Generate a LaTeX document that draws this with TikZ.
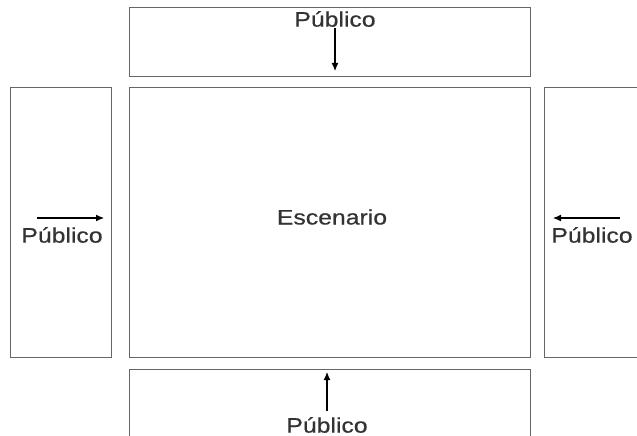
\documentclass[tikz,border=0pt]{standalone}
\usepackage{fontspec}
\setmainfont[FakeStretch=1.18,FakeBold=0.5]{Liberation Sans}
\usetikzlibrary{arrows.meta}
\begin{document}
\begin{tikzpicture}[x=1pt,y=-1pt,
  area/.style={draw=black!60,line width=1.3pt,inner sep=0pt,anchor=north west},
  lbl/.style={font=\fontsize{21}{23}\selectfont,text=black!80,inner sep=0pt},
  arr/.style={-{Latex[length=8pt,width=7pt]},line width=1.1pt,black}]
\useasboundingbox (0,0) rectangle (637,436);
\clip (0,0) rectangle (637,436);
% areas
\node[area,minimum width=401pt,minimum height=69pt] (top) at (129,7) {};
\node[area,minimum width=401pt,minimum height=270pt] (stage) at (129,87) {};
\node[area,minimum width=101pt,minimum height=270pt] (left) at (10,87) {};
\node[area,minimum width=110pt,minimum height=270pt] (right) at (544,87) {};
\node[area,minimum width=401pt,minimum height=80pt] (bottom) at (129,369) {};
% labels
\node[lbl] (escenario) at (332,217) {Escenario};
\node[lbl] (ptop) at (335,19) {Público};
\node[lbl] (pleft) at (62,235) {Público};
\node[lbl] (pright) at (592,235) {Público};
\node[lbl] (pbottom) at (327,425) {Público};
% arrow ends
\coordinate (t1) at (335,28); \coordinate (t2) at (335,71);
\coordinate (l1) at (37,218); \coordinate (l2) at (104,218);
\coordinate (r1) at (620,218); \coordinate (r2) at (553,218);
\coordinate (b1) at (327,411); \coordinate (b2) at (327,372);
\draw[arr] (t1) -- (t2);
\draw[arr] (l1) -- (l2);
\draw[arr] (r1) -- (r2);
\draw[arr] (b1) -- (b2);
\end{tikzpicture}
\end{document}
